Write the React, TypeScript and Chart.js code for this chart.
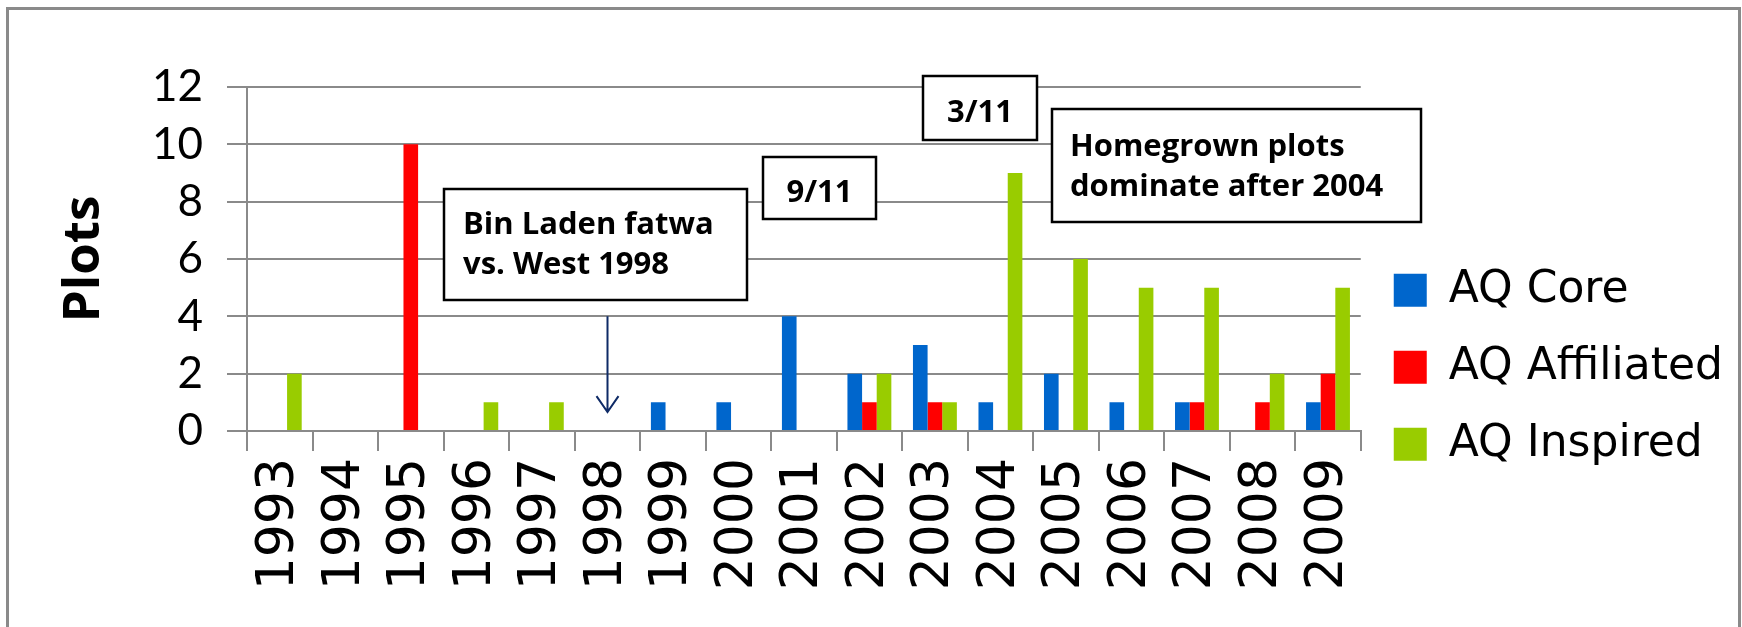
import React, { useEffect, useRef } from "react";
import { Chart, registerables } from "chart.js";

Chart.register(...registerables);

const years = ["1993", "1994", "1995", "1996", "1997", "1998", "1999", "2000", "2001", "2002", "2003", "2004", "2005", "2006", "2007", "2008", "2009"];
const aqCore = [0, 0, 0, 0, 0, 0, 1, 1, 4, 2, 3, 1, 2, 1, 1, 0, 1];
const aqAffiliated = [0, 0, 10, 0, 0, 0, 0, 0, 0, 1, 1, 0, 0, 0, 1, 1, 2];
const aqInspired = [2, 0, 0, 1, 1, 0, 0, 0, 0, 2, 1, 9, 6, 5, 5, 2, 5];
const seriesNames = ["AQ Core", "AQ Affiliated", "AQ Inspired"];
const seriesColors = ["#0066CC", "#FF0000", "#99CC00"];
const yMin = 0;
const yMax = 12;
const yStep = 2;
const axisTitle = "Plots";

// arrow: from value 4 down to ~0.66 at the 1998 category
const arrowYear = "1998";
const arrowFrom = 4;
const arrowTo = 0.66;

type Callout = { lines: string[]; box: [number, number, number, number]; textX: number | null; baselines: number[] };
const callouts: Callout[] = [
  { lines: ["Bin Laden fatwa", "vs. West 1998"], box: [444, 189, 747, 300], textX: 463, baselines: [234, 274] },
  { lines: ["9/11"], box: [763, 157, 876, 219], textX: null, baselines: [202] },
  { lines: ["3/11"], box: [923, 76, 1037, 140], textX: null, baselines: [122] },
  { lines: ["Homegrown plots", "dominate after 2004"], box: [1052, 109, 1421, 222], textX: 1070, baselines: [156, 196] },
];

const decorPlugin = {
  id: "decor",
  afterDatasetsDraw(chart: any) {
    const ctx = chart.ctx as CanvasRenderingContext2D;
    const xs = chart.scales.x;
    const ys = chart.scales.y;
    const idx = years.indexOf(arrowYear);
    const x = Math.round(xs.getPixelForValue(idx)) + 0.5;
    const y1 = ys.getPixelForValue(arrowFrom);
    const y2 = ys.getPixelForValue(arrowTo);
    ctx.save();
    ctx.strokeStyle = "#0E2A66";
    ctx.lineWidth = 2;
    ctx.beginPath();
    ctx.moveTo(x, y1);
    ctx.lineTo(x, y2);
    ctx.moveTo(x - 11, y2 - 16);
    ctx.lineTo(x, y2);
    ctx.lineTo(x + 11, y2 - 16);
    ctx.stroke();
    ctx.restore();
  },
  afterDraw(chart: any) {
    const ctx = chart.ctx as CanvasRenderingContext2D;
    ctx.save();
    // outer frame
    ctx.strokeStyle = "#8A8A8A";
    ctx.lineWidth = 3;
    ctx.strokeRect(7.5, 8.5, 1732, 660);
    // callouts
    for (const c of callouts) {
      const [l, t, r, b] = c.box;
      ctx.fillStyle = "#FFFFFF";
      ctx.fillRect(l, t, r - l, b - t);
      ctx.strokeStyle = "#000000";
      ctx.lineWidth = 2.5;
      ctx.strokeRect(l, t, r - l, b - t);
      ctx.fillStyle = "#000000";
      ctx.font = 'bold 31px "Open Sans"';
      ctx.textBaseline = "alphabetic";
      c.lines.forEach((line, i) => {
        if (c.textX === null) {
          ctx.textAlign = "center";
          ctx.fillText(line, (l + r) / 2, c.baselines[i]);
        } else {
          ctx.textAlign = "left";
          ctx.fillText(line, c.textX, c.baselines[i]);
        }
      });
    }
    ctx.restore();
  },
};

export default function App() {
  const ref = useRef<HTMLCanvasElement | null>(null);
  useEffect(() => {
    if (!ref.current) return;
    const seriesData = [aqCore, aqAffiliated, aqInspired];
    const chart = new Chart(ref.current, {
      type: "bar",
      data: {
        labels: years,
        datasets: seriesNames.map((name, i) => ({
          label: name,
          data: seriesData[i],
          backgroundColor: seriesColors[i],
          borderWidth: 0,
          categoryPercentage: 0.67,
          barPercentage: 1.0,
        })),
      },
      options: {
        animation: false,
        responsive: false,
        maintainAspectRatio: false,
        devicePixelRatio: 1,
        layout: { padding: { top: 87, left: 0, right: 9, bottom: 0 } },
        plugins: {
          tooltip: { enabled: false },
          legend: {
            position: "right",
            align: "center",
            title: { display: true, text: " ", font: { size: 12 }, padding: { top: 3, bottom: 3 } },
            labels: {
              boxWidth: 33,
              boxHeight: 33,
              padding: 33,
              color: "#000000",
              font: { family: "DejaVu Sans", size: 44 },
            },
          },
        },
        scales: {
          x: {
            grid: { drawOnChartArea: false, drawTicks: true, tickLength: 20, color: "#8A8A8A", lineWidth: 2, offset: true },
            border: { color: "#8A8A8A", width: 2 },
            ticks: {
              autoSkip: false,
              maxRotation: 90,
              minRotation: 90,
              padding: 7,
              color: "#000000",
              font: { family: "DejaVu Sans", size: 52 },
            },
            afterFit: (s: any) => {
              s.height = 196;
            },
          },
          y: {
            min: yMin,
            max: yMax,
            ticks: { stepSize: yStep, padding: 24, color: "#000000", font: { family: "Lato", size: 44 } },
            grid: { color: "#8A8A8A", lineWidth: 2, tickLength: 20 },
            border: { color: "#8A8A8A", width: 2 },
            title: {
              display: true,
              text: axisTitle,
              color: "#000000",
              font: { family: "Open Sans", weight: "bold", size: 51 },
              padding: { top: 54, bottom: 0 },
            },
            afterFit: (s: any) => {
              s.width = 247;
            },
          },
        },
      },
      plugins: [decorPlugin],
    } as any);
    return () => chart.destroy();
  }, []);
  return (
    <div style={{ position: "fixed", left: 0, top: 0, width: 1742, height: 627, background: "#FFFFFF" }}>
      <canvas ref={ref} width={1742} height={627} style={{ display: "block", width: 1742, height: 627 }} />
    </div>
  );
}
